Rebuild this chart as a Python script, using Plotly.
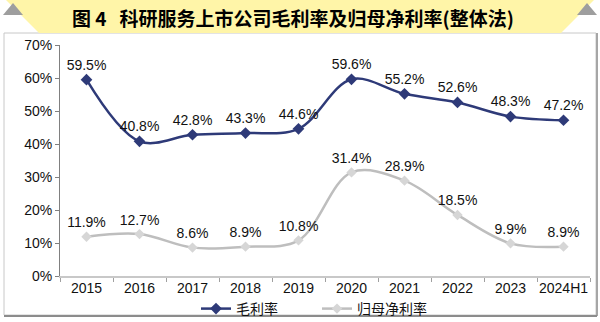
import plotly.graph_objects as go

categories = ["2015", "2016", "2017", "2018", "2019", "2020", "2021", "2022", "2023", "2024H1"]
gross_margin = [59.5, 40.8, 42.8, 43.3, 44.6, 59.6, 55.2, 52.6, 48.3, 47.2]
net_margin = [11.9, 12.7, 8.6, 8.9, 10.8, 31.4, 28.9, 18.5, 9.9, 8.9]
y_ticks = [0, 10, 20, 30, 40, 50, 60, 70]
y_tick_labels = [f"{v}%" for v in y_ticks]
title_text = "<b>图 4\u00a0\u00a0\u00a0科研服务上市公司毛利率及归母净利率(整体法)</b>"
series_names = ["毛利率", "归母净利率"]

W, H = 600, 322
L, R, T, B = 60, 10, 45, 46
PW, PH = W - L - R, H - T - B


def px(x):
    return (x - L) / PW


def py(y):
    return (H - B - y) / PH


fig = go.Figure()

fig.add_trace(go.Scatter(
    x=categories, y=gross_margin, name=series_names[0],
    mode="lines+markers+text",
    line=dict(color="#2E3A78", width=2.5, shape="spline", smoothing=1),
    marker=dict(symbol="diamond", size=9, color="#2E3A78"),
    text=[f"{v:.1f}%" for v in gross_margin], textposition="top center",
    textfont=dict(family="Liberation Sans, Arial", size=14, color="#111111"),
    cliponaxis=False,
))
fig.add_trace(go.Scatter(
    x=categories, y=net_margin, name=series_names[1],
    mode="lines+markers+text",
    line=dict(color="#BEBEBE", width=2.5, shape="spline", smoothing=1),
    marker=dict(symbol="diamond", size=8, color="#D6D6D6"),
    text=[f"{v:.1f}%" for v in net_margin], textposition="top center",
    textfont=dict(family="Liberation Sans, Arial", size=14, color="#111111"),
    cliponaxis=False,
))

shapes = []
# outer frame
shapes.append(dict(type="rect", xref="paper", yref="paper",
                   x0=px(4), x1=px(596), y0=py(315), y1=py(33),
                   line=dict(color="#C8C8C8", width=1), fillcolor="rgba(0,0,0,0)", layer="below"))
shapes.append(dict(type="line", xref="paper", yref="paper",
                   x0=px(597), x1=px(597), y0=py(316), y1=py(33),
                   line=dict(color="#A6A6A6", width=2), layer="below"))
shapes.append(dict(type="line", xref="paper", yref="paper",
                   x0=px(4), x1=px(597), y0=py(316), y1=py(316),
                   line=dict(color="#8C8C8C", width=2), layer="below"))
# title banner (trapezoid)
banner = [(6, 0), (594, 0), (561, 33), (39, 33)]
path = "M " + " L ".join(f"{px(a)},{py(b)}" for a, b in banner) + " Z"
shapes.append(dict(type="path", xref="paper", yref="paper", path=path,
                   fillcolor="#FFF5A8", line=dict(width=0), layer="below"))
# grey corner triangles
for tri in ([(3, 15), (13, 3), (23, 15)], [(577, 15), (587, 3), (597, 15)]):
    p = "M " + " L ".join(f"{px(a)},{py(b)}" for a, b in tri) + " Z"
    shapes.append(dict(type="path", xref="paper", yref="paper", path=p,
                       fillcolor="#9E9E9E", line=dict(width=0), layer="below"))

fig.update_layout(
    width=W, height=H,
    margin=dict(l=L, r=R, t=T, b=B, autoexpand=False),
    paper_bgcolor="white", plot_bgcolor="white",
    shapes=shapes,
    showlegend=True,
    legend=dict(orientation="h", x=px(196), xanchor="left", y=py(309), yanchor="middle",
                font=dict(family="Noto Sans CJK SC", size=14, color="#111111"),
                bgcolor="rgba(0,0,0,0)", traceorder="normal",
                entrywidth=76, entrywidthmode="pixels",
                tracegroupgap=0, borderwidth=0),
    annotations=[dict(text=title_text, xref="paper", yref="paper",
                      x=px(293), y=py(17), xanchor="center", yanchor="middle",
                      showarrow=False,
                      font=dict(family="Noto Sans CJK SC", size=19, color="#000000"))],
    xaxis=dict(type="category", range=[-0.5, 9.5], showgrid=False,
               showline=True, linecolor="#C8C8C8", linewidth=1.5,
               ticks="outside", tickson="boundaries", ticklen=4, tickcolor="#A0A0A0",
               tickangle=0, ticklabelstandoff=-2,
               tickfont=dict(family="Liberation Sans, Arial", size=14, color="#111111"),
               zeroline=False),
    yaxis=dict(range=[0, 70], tickmode="array", tickvals=y_ticks, ticktext=y_tick_labels,
               showgrid=False,
               showline=True, linecolor="#808080", linewidth=1,
               ticks="outside", ticklen=4, tickcolor="#808080",
               tickfont=dict(family="Liberation Sans, Arial", size=14, color="#111111"),
               zeroline=False),
)

fig.write_html("out.html")
